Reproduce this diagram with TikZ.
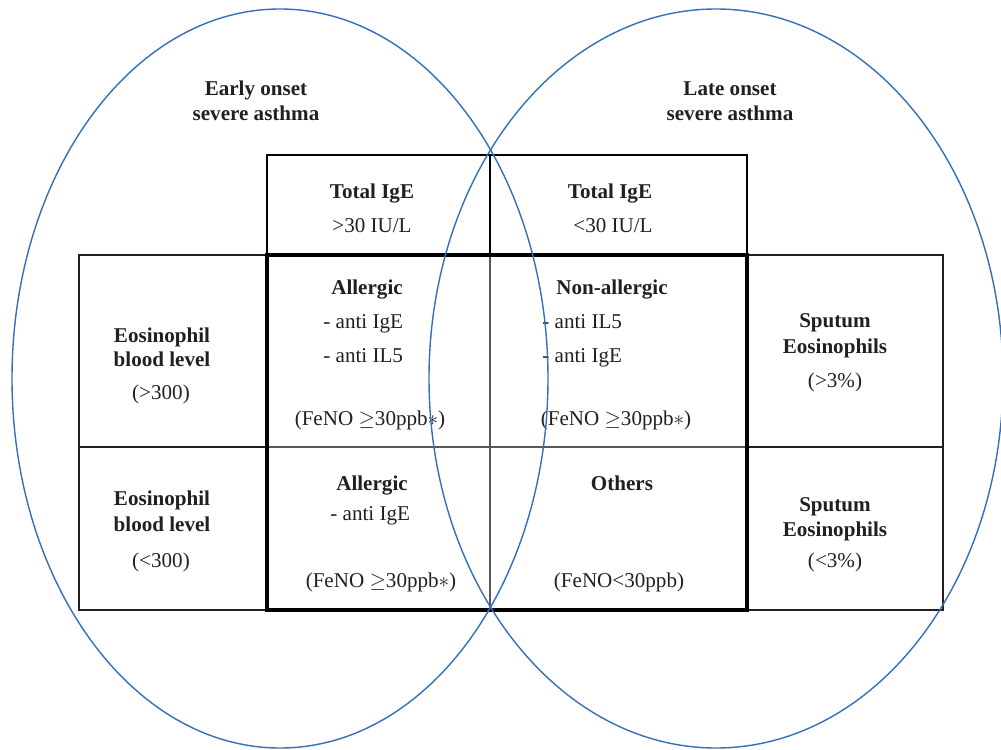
\documentclass[tikz,border=0pt]{standalone}
\usepackage{fontspec}
\setmainfont{Liberation Serif}
\usepackage{xcolor}
\usepackage{tikz}

\definecolor{vennblue}{RGB}{52,112,186}
\definecolor{ink}{RGB}{35,31,32}

\begin{document}
\begin{tikzpicture}[x=0.02cm, y=-0.02cm,
    every node/.style = {text=ink, inner sep=0pt, anchor=base,
                         font=\fontsize{12}{14}\selectfont},
    head/.style  = {font=\fontsize{12}{14}\selectfont\bfseries},
    item/.style  = {anchor=base west},
    box/.style   = {draw=ink, line width=1.1pt},
    core/.style  = {draw=black, line width=2pt},
    grid/.style  = {draw=ink!75, line width=0.8pt},
    venn/.style  = {draw=vennblue, line width=0.8pt}]
  \useasboundingbox (0,0) rectangle (1001,750);

  % side boxes
  \draw[box] (79,255) rectangle (267,447);
  \draw[box] (79,447) rectangle (267,610);
  \draw[box] (747,255) rectangle (943,447);
  \draw[box] (747,447) rectangle (943,610);

  % IgE header
  \draw[core, line width=1.6pt] (267,155) rectangle (747,255);
  \draw[core, line width=1.6pt] (490,155) -- (490,255);

  % phenotype grid
  \draw[grid] (490,255) -- (490,610);
  \draw[grid] (267,447) -- (747,447);
  \draw[core] (267,255) rectangle (747,610);

  % onset
  \node[head] (early1) at (256,96) {Early onset};
  \node[head] (early2) at (256,121) {severe asthma};
  \node[head] (late1) at (730,96) {Late onset};
  \node[head] (late2) at (730,121) {severe asthma};

  % total IgE
  \node[head] (ige1) at (372,198) {Total IgE};
  \node (igev1) at (372,232) {>30 IU/L};
  \node[head] (ige2) at (610,198) {Total IgE};
  \node (igev2) at (613,232) {<30 IU/L};

  % blood eosinophils
  \node[head] (eos1a) at (162,342) {Eosinophil};
  \node[head] (eos1b) at (162,366) {blood level};
  \node (eos1v) at (161,399) {(>300)};
  \node[head] (eos2a) at (162,505) {Eosinophil};
  \node[head] (eos2b) at (162,531) {blood level};
  \node (eos2v) at (161,567) {(<300)};

  % sputum eosinophils
  \node[head] (spu1a) at (835,327) {Sputum};
  \node[head] (spu1b) at (835,353) {Eosinophils};
  \node (spu1v) at (835,387) {(>3\%)};
  \node[head] (spu2a) at (835,511) {Sputum};
  \node[head] (spu2b) at (835,536) {Eosinophils};
  \node (spu2v) at (835,567) {(<3\%)};

  % allergic, high eosinophils
  \node[head] (all1) at (367,294) {Allergic};
  \node[item] (all1a) at (323,328) {- anti IgE};
  \node[item] (all1b) at (323,362) {- anti IL5};
  \node (all1f) at (370,425) {(FeNO $\geq$30ppb$\ast$)};

  % non-allergic
  \node[head] (non) at (612,294) {Non-allergic};
  \node[item] (nona) at (542,328) {- anti IL5};
  \node[item] (nonb) at (542,362) {- anti IgE};
  \node (nonf) at (616,425) {(FeNO $\geq$30ppb$\ast$)};

  % allergic, low eosinophils
  \node[head] (all2) at (372,490) {Allergic};
  \node[item] (all2a) at (330,520) {- anti IgE};
  \node (all2f) at (381,587) {(FeNO $\geq$30ppb$\ast$)};

  % others
  \node[head] (oth) at (622,490) {Others};
  \node (othf) at (619,587) {(FeNO<30ppb)};

  % onset ellipses
  \draw[venn] (280,378.5) ellipse (268 and 369.5);
  \draw[venn] (716,378.5) ellipse (287 and 369.5);
\end{tikzpicture}
\end{document}
